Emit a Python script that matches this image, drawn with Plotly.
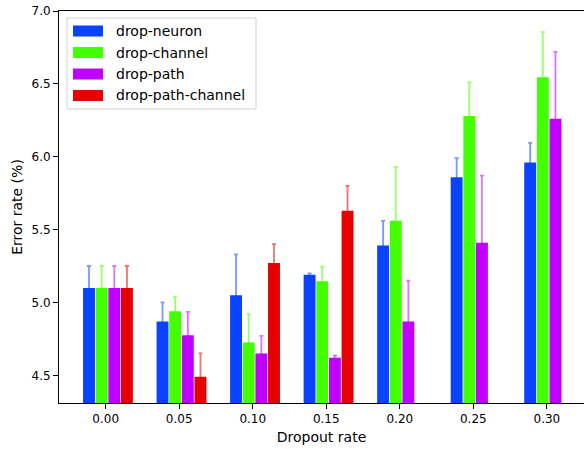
import plotly.graph_objects as go

categories = ["0.00", "0.05", "0.10", "0.15", "0.20", "0.25", "0.30"]
series_names = ["drop-neuron", "drop-channel", "drop-path", "drop-path-channel"]
drop_neuron = [5.10, 4.87, 5.05, 5.19, 5.39, 5.86, 5.96]
drop_neuron_err = [0.15, 0.13, 0.28, 0.01, 0.17, 0.13, 0.135]
drop_channel = [5.10, 4.94, 4.725, 5.145, 5.56, 6.28, 6.545]
drop_channel_err = [0.15, 0.10, 0.195, 0.10, 0.37, 0.23, 0.31]
drop_path = [5.10, 4.775, 4.65, 4.62, 4.87, 5.41, 6.26]
drop_path_err = [0.15, 0.16, 0.12, 0.016, 0.28, 0.46, 0.46]
drop_path_channel = [5.10, 4.49, 5.27, 5.63, None, None, None]
drop_path_channel_err = [0.15, 0.16, 0.13, 0.17, None, None, None]

colors = ["#0a43ff", "#43ff00", "#c000ff", "#e60000"]
err_colors = ["rgba(10,67,255,0.55)", "rgba(67,255,0,0.55)",
              "rgba(192,0,255,0.55)", "rgba(230,0,0,0.55)"]
values = [drop_neuron, drop_channel, drop_path, drop_path_channel]
errors = [drop_neuron_err, drop_channel_err, drop_path_err, drop_path_channel_err]

xs = list(range(len(categories)))
bar_w = 0.162
offsets = [-0.308, -0.136, 0.036, 0.208]

fig = go.Figure()
for name, vals, errs, c, ec, off in zip(series_names, values, errors, colors, err_colors, offsets):
    fig.add_trace(go.Bar(
        x=xs, y=vals, name=name, width=bar_w, offset=off,
        marker=dict(color=c, line=dict(width=0)),
        error_y=dict(type="data", array=errs, symmetric=True, color=ec,
                     thickness=1.8, width=2),
        showlegend=False,
    ))

# custom legend (matplotlib-like wide patches)
shapes = [dict(type="rect", xref="paper", yref="paper",
               x0=(67 - 59) / 525, x1=(256 - 59) / 525,
               y0=(403 - 109) / 392, y1=(403 - 18) / 392,
               line=dict(color="#d0d0d0", width=1), fillcolor="rgba(255,255,255,0.8)",
               layer="above")]
annotations = []
for i, (name, c) in enumerate(zip(series_names, colors)):
    yc = 31 + i * 21.5
    shapes.append(dict(type="rect", xref="paper", yref="paper",
                       x0=(73 - 59) / 525, x1=(103 - 59) / 525,
                       y0=(403 - (yc + 5.5)) / 392, y1=(403 - (yc - 5.5)) / 392,
                       line=dict(width=0), fillcolor=c, layer="above"))
    annotations.append(dict(xref="paper", yref="paper", x=(114 - 59) / 525,
                            y=(403 - yc) / 392, text=name, showarrow=False,
                            xanchor="left", yanchor="middle",
                            font=dict(family="DejaVu Sans", size=14, color="#000")))

fig.update_layout(
    width=584, height=449,
    margin=dict(l=59, r=0, t=11, b=46),
    paper_bgcolor="white", plot_bgcolor="white",
    barmode="overlay",
    font=dict(family="DejaVu Sans", size=12, color="#000"),
    shapes=shapes, annotations=annotations,
    showlegend=False,
)
fig.update_xaxes(
    range=[-0.635, 6.505], tickvals=xs, ticktext=categories,
    showgrid=False, zeroline=False, showline=True, linecolor="black", linewidth=1,
    mirror=True, ticks="outside", ticklen=5, tickcolor="black",
    tickfont=dict(size=12),
    title=dict(text="Dropout rate", font=dict(size=14), standoff=6),
)
fig.update_yaxes(
    range=[4.31, 7.0], tickvals=[4.5, 5.0, 5.5, 6.0, 6.5, 7.0],
    ticktext=["4.5", "5.0", "5.5", "6.0", "6.5", "7.0"],
    showgrid=False, zeroline=False, showline=True, linecolor="black", linewidth=1,
    mirror=True, ticks="outside", ticklen=5, tickcolor="black",
    tickfont=dict(size=12),
    title=dict(text="Error rate (%)", font=dict(size=14), standoff=5),
)

fig.write_html("out.html")
